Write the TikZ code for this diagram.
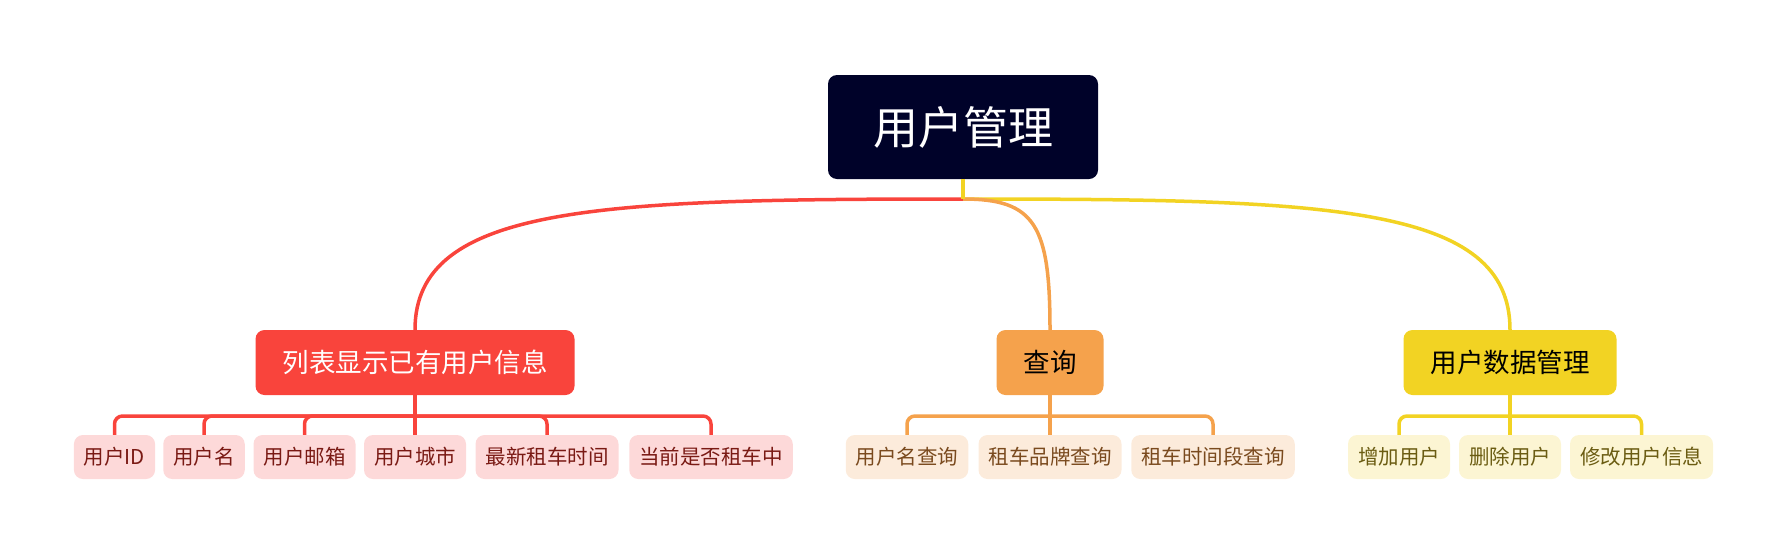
\documentclass[tikz,border=0pt]{standalone}
\usepackage{fontspec}
\setmainfont{Noto Sans CJK SC}
\definecolor{rootc}{HTML}{000229}
\definecolor{redc}{HTML}{F9443C}
\definecolor{orac}{HTML}{F5A24C}
\definecolor{yelc}{HTML}{F2D323}
\definecolor{redl}{HTML}{FDD9D9}
\definecolor{oral}{HTML}{FCEBDB}
\definecolor{yell}{HTML}{FCF5D3}
\definecolor{redt}{HTML}{7A1A14}
\definecolor{orat}{HTML}{7A4A1E}
\definecolor{yelt}{HTML}{6B5C12}
\tikzset{
  rootbox/.style={fill=rootc, text=white, rounded corners=9pt, inner xsep=45pt, minimum height=104pt, font=\fontsize{45}{50}\selectfont},
  topic/.style={rounded corners=9pt, inner xsep=27pt, minimum height=65pt, font=\fontsize{26.5}{30}\selectfont},
  leaf/.style={rounded corners=9pt, inner xsep=10pt, minimum height=44pt, font=\fontsize{20.5}{24}\selectfont},
  link/.style={line width=3.5pt},
  br/.style={line width=3.5pt, rounded corners=8pt},
}
\begin{document}
\begin{tikzpicture}[x=1pt,y=-1pt]
\useasboundingbox (0,0) rectangle (1789,555);
% root
\node[rootbox] (root) at (963,127) {用户管理};
\coordinate (j) at (963,199);
% topics
\node[topic, fill=redc, text=white] (t1) at (415,362.5) {列表显示已有用户信息};
\node[topic, fill=orac, text=black] (t2) at (1050,362.5) {查询};
\node[topic, fill=yelc, text=black] (t3) at (1510,362.5) {用户数据管理};
% main links
\draw[link, redc] (j) .. controls (600,199) and (415,205) .. (t1.north);
\draw[link, yelc] (j) .. controls (1330,199) and (1510,205) .. (t3.north);
\draw[link, orac] (j) .. controls (1035,199) and (1050,225) .. (t2.north);
\draw[link, yelc] (root.south) -- (j);
% red leaves
\begin{scope}[every node/.style={leaf, fill=redl, text=redt}]
\node (r1) at (114.5,457) {用户ID};
\node (r2) at (204,457) {用户名};
\node (r3) at (304.5,457) {用户邮箱};
\node (r4) at (415,457) {用户城市};
\node (r5) at (547,457) {最新租车时间};
\node (r6) at (711,457) {当前是否租车中};
\end{scope}
\coordinate (rb) at (415,416);
\draw[link, redc] (t1.south) -- (r4.north);
\foreach \n in {r1,r2,r3,r5,r6} \draw[br, redc] (rb) -| (\n.north);
% orange leaves
\begin{scope}[every node/.style={leaf, fill=oral, text=orat}]
\node (o1) at (907,457) {用户名查询};
\node (o2) at (1050,457) {租车品牌查询};
\node (o3) at (1213,457) {租车时间段查询};
\end{scope}
\coordinate (ob) at (1050,416);
\draw[link, orac] (t2.south) -- (o2.north);
\foreach \n in {o1,o3} \draw[br, orac] (ob) -| (\n.north);
% yellow leaves
\begin{scope}[every node/.style={leaf, fill=yell, text=yelt}]
\node (y1) at (1399,457) {增加用户};
\node (y2) at (1510,457) {删除用户};
\node (y3) at (1641.5,457) {修改用户信息};
\end{scope}
\coordinate (yb) at (1510,416);
\draw[link, yelc] (t3.south) -- (y2.north);
\foreach \n in {y1,y3} \draw[br, yelc] (yb) -| (\n.north);
\end{tikzpicture}
\end{document}
